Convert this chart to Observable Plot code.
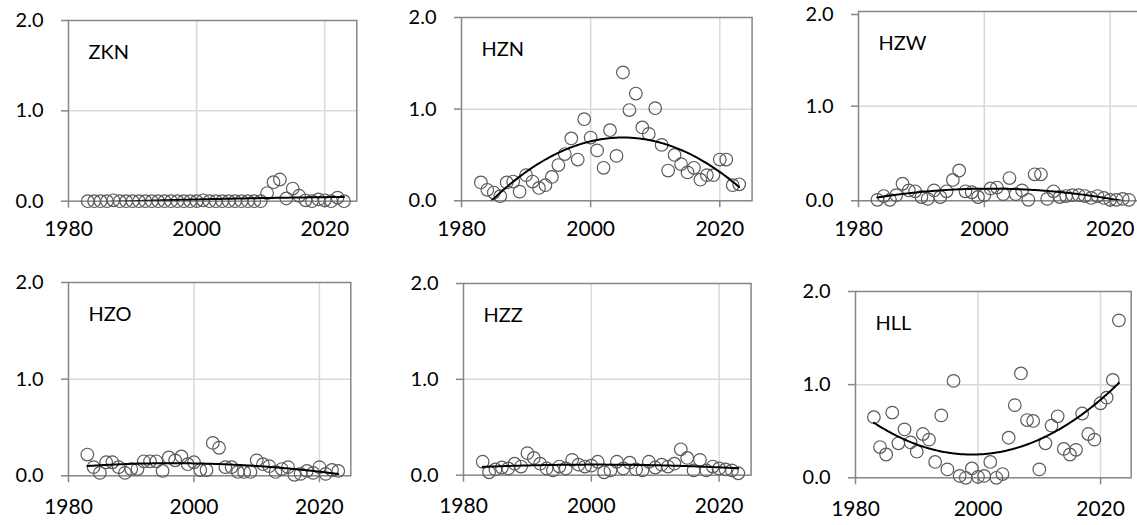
<!DOCTYPE html>
<html><head><meta charset="utf-8">
<script src="https://cdn.jsdelivr.net/npm/d3@7"></script>
<script src="https://cdn.jsdelivr.net/npm/@observablehq/plot@0.6"></script>
<style>
html,body{margin:0;padding:0;background:#fff;overflow:hidden}
#chart{position:relative;width:1137px;height:525px;overflow:hidden}
#chart svg{position:absolute;overflow:visible}
</style></head><body><div id="chart"></div>
<script>
// ---- data ----
const years = [1983,1984,1985,1986,1987,1988,1989,1990,1991,1992,
               1993,1994,1995,1996,1997,1998,1999,2000,2001,2002,
               2003,2004,2005,2006,2007,2008,2009,2010,2011,2012,
               2013,2014,2015,2016,2017,2018,2019,2020,2021,2022,2023];
const panelNames = ["ZKN","HZN","HZW","HZO","HZZ","HLL"];
const ZKN = [0.00,0.00,0.00,0.00,0.01,0.00,0.00,0.00,0.00,0.00,
             0.00,0.00,0.00,0.00,0.00,0.00,0.00,0.00,0.01,0.00,
             0.00,0.00,0.00,0.00,0.00,0.00,0.00,0.00,0.09,0.21,
             0.24,0.03,0.14,0.06,0.01,0.00,0.02,0.01,0.00,0.04,0.00];
const HZN = [0.20,0.12,0.09,0.05,0.20,0.21,0.10,0.28,0.21,0.14,
             0.17,0.26,0.39,0.51,0.68,0.45,0.89,0.69,0.55,0.36,
             0.77,0.49,1.40,0.99,1.17,0.80,0.73,1.01,0.61,0.33,
             0.50,0.40,0.31,0.36,0.23,0.28,0.28,0.45,0.45,0.17,0.18];
const HZW = [0.01,0.05,0.01,0.06,0.18,0.11,0.10,0.04,0.02,0.11,
             0.04,0.10,0.22,0.32,0.10,0.09,0.04,0.06,0.13,0.14,
             0.07,0.24,0.07,0.11,0.01,0.28,0.28,0.02,0.10,0.04,
             0.05,0.06,0.06,0.05,0.03,0.05,0.03,0.01,0.01,0.02,0.01];
const HZO = [0.22,0.09,0.03,0.14,0.14,0.09,0.03,0.07,0.07,0.15,
             0.15,0.15,0.05,0.19,0.16,0.20,0.12,0.14,0.06,0.06,
             0.34,0.29,0.09,0.09,0.04,0.04,0.04,0.16,0.12,0.10,
             0.04,0.07,0.09,0.01,0.02,0.05,0.03,0.09,0.02,0.06,0.05];
const HZZ = [0.14,0.03,0.06,0.08,0.07,0.12,0.09,0.23,0.18,0.12,
             0.07,0.05,0.09,0.07,0.16,0.11,0.09,0.10,0.14,0.03,
             0.05,0.14,0.07,0.13,0.06,0.05,0.14,0.08,0.11,0.09,
             0.12,0.27,0.18,0.05,0.16,0.05,0.09,0.07,0.06,0.05,0.02];
const HLL = [0.65,0.33,0.25,0.70,0.37,0.52,0.38,0.28,0.47,0.41,
             0.17,0.67,0.09,1.04,0.02,0.00,0.10,0.01,0.02,0.17,
             0.00,0.04,0.43,0.78,1.12,0.62,0.61,0.09,0.37,0.56,
             0.66,0.31,0.25,0.30,0.69,0.47,0.41,0.80,0.86,1.05,1.69];
const xTicks = [1980, 2000, 2020];
const yTicks = [0, 1, 2];

const seriesList = [ZKN, HZN, HZW, HZO, HZZ, HLL];

// ---- layout (plot-area pixel boxes) ----
const layout = [
  {L:67.7, R:356,   T:20,   B:200.7, pad:13, topDy:0},
  {L:461,  R:751.6, T:17,   B:200.3, pad:13, topDy:0},
  {L:857.7,R:1140.8,T:10.7, B:200,   pad:13, topDy:3},
  {L:67.7, R:350,   T:281.7,B:475,   pad:16, topDy:0},
  {L:462.7,R:750.3, T:283.3,B:475,   pad:16, topDy:0},
  {L:855.3,R:1131,  T:290.7,B:477,   pad:16, topDy:0}
];
const mL = 60, mR = 8, mT = 14, mB = 45;
const FONT = "Lato, 'Open Sans', sans-serif";
const axisGray = "#868686", gridGray = "#d9d9d9";

// quadratic least squares (Excel polynomial trendline, order 2)
function quadFit(xs, ys) {
  const x0 = 2003;
  let S = [0,0,0,0,0], T = [0,0,0];
  xs.forEach((x, i) => {
    const u = x - x0;
    let p = 1;
    for (let k = 0; k < 5; k++) { S[k] += p; if (k < 3) T[k] += p * ys[i]; p *= u; }
  });
  const A = [[S[0],S[1],S[2],T[0]],[S[1],S[2],S[3],T[1]],[S[2],S[3],S[4],T[2]]];
  for (let c = 0; c < 3; c++) {
    for (let r = c + 1; r < 3; r++) {
      const f = A[r][c] / A[c][c];
      for (let k = c; k < 4; k++) A[r][k] -= f * A[c][k];
    }
  }
  const b = [0,0,0];
  for (let r = 2; r >= 0; r--) {
    let s = A[r][3];
    for (let k = r + 1; k < 3; k++) s -= A[r][k] * b[k];
    b[r] = s / A[r][r];
  }
  return x => { const u = x - x0; return b[0] + b[1]*u + b[2]*u*u; };
}

const root = document.getElementById("chart");
panelNames.forEach((name, i) => {
  const g = layout[i];
  const vals = seriesList[i];
  const pts = years.map((y, j) => ({year: y, value: vals[j]}));
  const f = quadFit(years, vals);
  const trendX = d3.range(years[0], years[years.length-1] + 0.001, 0.2);
  const trend = trendX.map(x => ({year: x, value: f(x)}));
  const width = (g.R - g.L) + mL + mR;
  const height = (g.B - g.T) + mT + mB;
  const yOpts = {tickSize: 7, tickPadding: 18, stroke: axisGray, strokeWidth: 1.5,
    fill: "#000", fontSize: 20, tickFormat: d => d.toFixed(1), label: null};
  const svg = Plot.plot({
    width, height,
    marginLeft: mL, marginRight: mR, marginTop: mT, marginBottom: mB,
    style: {fontFamily: FONT, fontSize: "20px", background: "transparent", color: "#000"},
    x: {domain: [1980, 2025]},
    y: {domain: [0, 2]},
    marks: [
      Plot.gridX([2000, 2020], {stroke: gridGray, strokeOpacity: 1, strokeWidth: 1.5}),
      Plot.gridY([1], {stroke: gridGray, strokeOpacity: 1, strokeWidth: 1.5}),
      Plot.frame({stroke: axisGray, strokeWidth: 1.5}),
      Plot.axisX(xTicks, {tickSize: 7, tickPadding: g.pad, stroke: axisGray, strokeWidth: 1.5,
        fill: "#000", fontSize: 21, tickFormat: d => String(d), label: null}),
      Plot.axisY(yTicks.slice(0, 2), yOpts),
      Plot.axisY(yTicks.slice(2), {...yOpts, textStroke: null, dy: g.topDy}),
      Plot.dot(pts, {x: "year", y: "value", r: 6.3, stroke: "#5a5a5a", strokeWidth: 1.2, fill: "none"}),
      Plot.line(trend, {x: "year", y: "value", stroke: "#000", strokeWidth: 2, clip: true}),
      Plot.text([name], {frameAnchor: "top-left", dx: 20, dy: 32, text: d => d,
        textAnchor: "start", lineAnchor: "middle", fontSize: 20, fill: "#000"})
    ]
  });
  svg.style.left = (g.L - mL) + "px";
  svg.style.top = (g.T - mT) + "px";
  root.appendChild(svg);
});
</script>
</body></html>
